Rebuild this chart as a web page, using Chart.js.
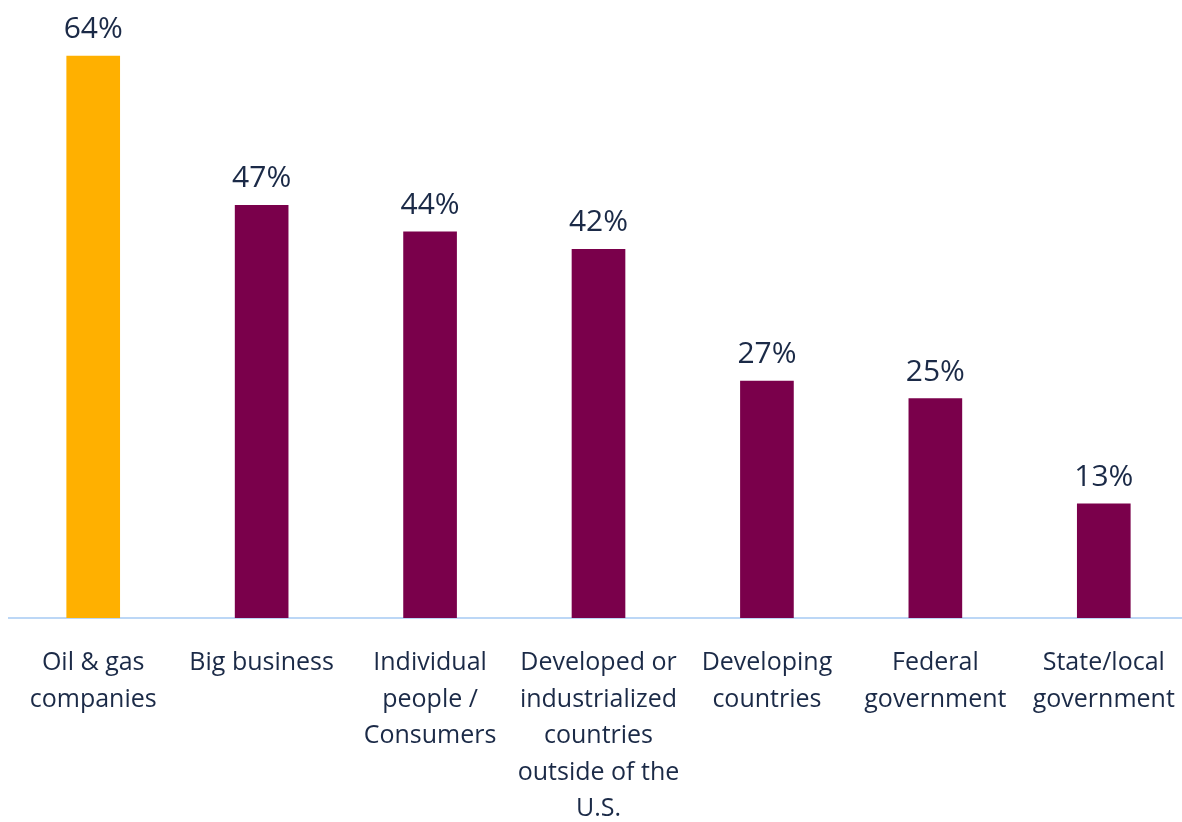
<!DOCTYPE html>
<html>
<head>
<meta charset="utf-8">
<script src="https://cdn.jsdelivr.net/npm/chart.js@4.4.0/dist/chart.umd.min.js"></script>
<style>
  html, body { margin: 0; padding: 0; background: #ffffff; overflow: hidden; }
  #wrap { position: relative; width: 1188px; height: 822px; }
</style>
</head>
<body>
<div id="wrap"><canvas id="chart" width="1188" height="822"></canvas></div>
<script>
// Who is responsible for climate change — share of respondents
const categories = [
  ["Oil & gas", "companies"],
  ["Big business"],
  ["Individual", "people /", "Consumers"],
  ["Developed or", "industrialized", "countries", "outside of the", "U.S."],
  ["Developing", "countries"],
  ["Federal", "government"],
  ["State/local", "government"]
];
const values = [64, 47, 44, 42, 27, 25, 13];
const barColors = ["#FFB000", "#7A004B", "#7A004B", "#7A004B", "#7A004B", "#7A004B", "#7A004B"];

const textColor = "#1B2A47";
const fontFamily = "'Open Sans', 'Noto Sans', sans-serif";

// Draws the percentage above each bar
const valueLabels = {
  id: "valueLabels",
  afterDatasetsDraw(chart) {
    const ctx = chart.ctx;
    const meta = chart.getDatasetMeta(0);
    ctx.save();
    ctx.font = "30px " + fontFamily;
    ctx.fillStyle = textColor;
    ctx.textAlign = "center";
    ctx.textBaseline = "alphabetic";
    meta.data.forEach((bar, i) => {
      ctx.fillText(values[i] + "%", bar.x, bar.y - 18);
    });
    ctx.restore();
  }
};

new Chart(document.getElementById("chart"), {
  type: "bar",
  data: {
    labels: categories,
    datasets: [{
      data: values,
      backgroundColor: barColors,
      borderWidth: 0,
      barThickness: 53
    }]
  },
  options: {
    responsive: false,
    animation: false,
    layout: { padding: { left: 9, right: 0, top: 0, bottom: 0 } },
    plugins: { legend: { display: false }, tooltip: { enabled: false } },
    scales: {
      x: {
        grid: { display: false, drawTicks: false },
        border: { display: true, color: "#BCD7F6", width: 2 },
        ticks: {
          color: textColor,
          font: { family: fontFamily, size: 25, lineHeight: 1.46 },
          padding: 27,
          maxRotation: 0,
          autoSkip: false
        },
        afterFit(scale) {
          scale.height = 204;
          scale.paddingLeft = 0;
          scale.paddingRight = 0;
        }
      },
      y: {
        display: false,
        min: 0,
        max: 70.4
      }
    }
  },
  plugins: [valueLabels]
});
</script>
</body>
</html>
